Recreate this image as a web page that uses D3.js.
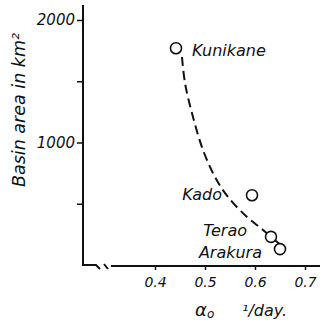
<!DOCTYPE html>
<html>
<head>
<meta charset="utf-8">
<script src="https://cdn.jsdelivr.net/npm/d3@7"></script>
<style>
  body { margin: 0; background: #fff; }
  svg text { font-family: "DejaVu Sans", sans-serif; font-style: italic; fill: #111; }
</style>
</head>
<body>
<svg class="chart" width="323" height="323"></svg>
<script>
// basins (alpha_0 in 1/day, area in km2)
var basins = ["Kunikane", "Kado", "Terao", "Arakura"];
var alpha = [0.442, 0.594, 0.632, 0.650];
var area = [1770, 570, 230, 130];

// dashed fitted curve
var curveAlpha = [0.454, 0.460, 0.476, 0.496, 0.520, 0.546, 0.584, 0.616, 0.656];
var curveArea = [1698, 1486, 1208, 939, 718, 555, 392, 286, 147];

var xTicks = [0.4, 0.5, 0.6, 0.7];
var yTicks = [500, 1000, 1500, 2000];
var yLabels = {1000: "1000", 2000: "2000"};

var canvas = d3.select(".chart");

var x = d3.scaleLinear().domain([0.4, 0.7]).range([155, 305]);
var y = d3.scaleLinear().domain([0, 2000]).range([265, 20]);

var x0 = 83, yTop = 5, xEnd = 320;

// y axis
var yAxis = canvas.append("g")
  .attr("transform", "translate(" + x0 + ",0)")
  .call(d3.axisLeft(y).tickValues(yTicks).tickSize(6).tickPadding(2)
    .tickFormat(d => yLabels[d] || ""));
yAxis.select(".domain").remove();
yAxis.selectAll("line").attr("stroke", "#111").attr("stroke-width", 1.5);
yAxis.selectAll("text").attr("font-size", 15).attr("font-family", "DejaVu Sans").attr("font-style", "italic");
canvas.append("line")
  .attr("x1", x0).attr("x2", x0).attr("y1", yTop).attr("y2", y(0) + 1)
  .attr("stroke", "#111").attr("stroke-width", 2);

// x axis
var xAxis = canvas.append("g")
  .attr("transform", "translate(0," + y(0) + ")")
  .call(d3.axisBottom(x).tickValues(xTicks).tickSize(5).tickPadding(7)
    .tickFormat(d => d.toFixed(1)));
xAxis.select(".domain").remove();
xAxis.selectAll("line").attr("stroke", "#111").attr("stroke-width", 1.5);
xAxis.selectAll("text").attr("font-size", 14).attr("font-family", "DejaVu Sans").attr("font-style", "italic");

// axis line with break
function seg(pts) {
  canvas.append("path").attr("d", d3.line()(pts))
    .attr("stroke", "#111").attr("stroke-width", 2).attr("fill", "none");
}
var yb = y(0);
seg([[x0 - 1, yb], [96, yb], [100, yb + 4]]);
seg([[104, yb - 1], [108, yb + 4]]);
seg([[111, yb + 1], [xEnd, yb + 1]]);

// dashed curve
var curvePts = curveAlpha.map((a, i) => [x(a), y(curveArea[i])]);
canvas.append("path")
  .attr("d", d3.line().curve(d3.curveCatmullRom)(curvePts))
  .attr("fill", "none").attr("stroke", "#111").attr("stroke-width", 2)
  .attr("stroke-dasharray", "9,5");

// points
canvas.selectAll("circle.pt")
  .data(basins)
  .enter()
    .append("circle")
      .attr("class", "pt")
      .attr("cx", (d, i) => x(alpha[i]))
      .attr("cy", (d, i) => y(area[i]))
      .attr("r", 5.5)
      .attr("fill", "#fff")
      .attr("stroke", "#111")
      .attr("stroke-width", 1.6);

// labels
var labelPos = {
  "Kunikane": {dx: 16, dy: 8, anchor: "start"},
  "Kado": {dx: -30, dy: 5, anchor: "end"},
  "Terao": {dx: -24, dy: -1, anchor: "end"},
  "Arakura": {dx: -18, dy: 9, anchor: "end"}
};
canvas.selectAll("text.lbl")
  .data(basins)
  .enter()
    .append("text")
      .attr("class", "lbl")
      .attr("x", (d, i) => x(alpha[i]) + labelPos[d].dx)
      .attr("y", (d, i) => y(area[i]) + labelPos[d].dy)
      .attr("text-anchor", d => labelPos[d].anchor)
      .attr("font-size", 16)
      .text(d => d);

// axis titles
canvas.append("text")
  .attr("transform", "translate(25,110) rotate(-90)")
  .attr("text-anchor", "middle")
  .attr("font-size", 17.5)
  .text("Basin area in km²");

var xt = canvas.append("text").attr("x", 195).attr("y", 316).attr("font-size", 18);
xt.append("tspan").text("α");
xt.append("tspan").attr("font-size", 12).attr("dy", 2).text("o");
canvas.append("text").attr("x", 242).attr("y", 316).attr("font-size", 16).text("¹/day.");
</script>
</body>
</html>
